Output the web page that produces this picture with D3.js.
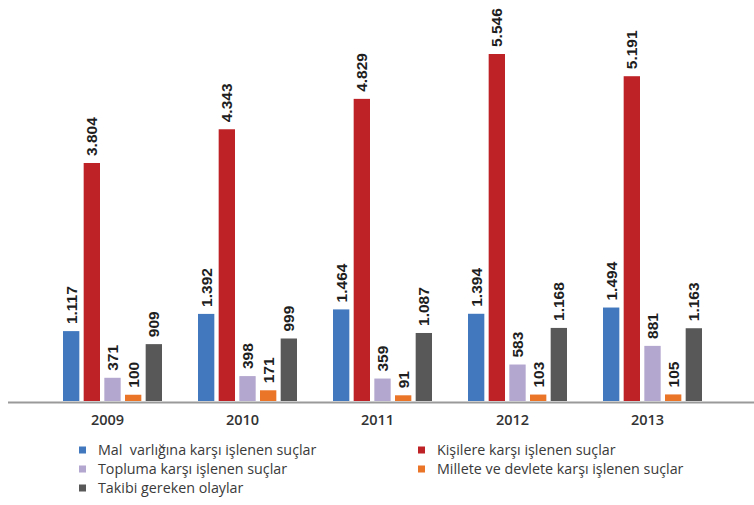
<!DOCTYPE html>
<html><head><meta charset="utf-8">
<script src="https://cdn.jsdelivr.net/npm/d3@7"></script>
<style>
html,body{margin:0;padding:0;background:#fff;}
svg{display:block;}
</style></head>
<body>
<svg id="chart" width="754" height="505"></svg>
<script>
const years = ["2009","2010","2011","2012","2013"];
const seriesNames = [
  "Mal  varlığına karşı işlenen suçlar",
  "Kişilere karşı işlenen suçlar",
  "Topluma karşı işlenen suçlar",
  "Millete ve devlete karşı işlenen suçlar",
  "Takibi gereken olaylar"
];
const mal      = [1117, 1392, 1464, 1394, 1494];
const kisiler  = [3804, 4343, 4829, 5546, 5191];
const topluma  = [371, 398, 359, 583, 881];
const millete  = [100, 171, 91, 103, 105];
const takibi   = [909, 999, 1087, 1168, 1163];
const colors = ["#4178be", "#be2126", "#b3a6cf", "#ea7428", "#585858"];

const seriesValues = [mal, kisiler, topluma, millete, takibi];
const fmt = v => d3.format(",")(v).replace(/,/g, ".");

const svg = d3.select("#chart");

const x0 = d3.scaleBand().domain(years).range([63, 702]).paddingInner(0.2667).paddingOuter(0);
const x1 = d3.scaleBand().domain(d3.range(seriesNames.length)).range([0, x0.bandwidth()]).paddingInner(0.21).paddingOuter(0);
const y = d3.scaleLinear().domain([0, 6000]).range([401, 25.6]);

const groups = svg.selectAll("g.grp").data(years).join("g")
  .attr("class", "grp")
  .attr("transform", d => `translate(${x0(d)},0)`);

groups.each(function(year, yi) {
  const g = d3.select(this);
  const rows = seriesValues.map((arr, si) => ({si, v: arr[yi]}));
  g.selectAll("rect").data(rows).join("rect")
    .attr("x", d => x1(d.si))
    .attr("width", x1.bandwidth())
    .attr("y", d => y(d.v))
    .attr("height", d => y(0) - y(d.v))
    .attr("fill", d => colors[d.si]);
  g.selectAll("text").data(rows).join("text")
    .attr("transform", d => `translate(${x1(d.si) + x1.bandwidth()/2},${y(d.v) - 7}) rotate(-90)`)
    .attr("dy", "0.36em")
    .attr("text-anchor", "start")
    .attr("font-family", "'Liberation Sans', Arial, sans-serif")
    .attr("font-weight", "bold")
    .attr("font-size", "15.5px")
    .attr("fill", "#1e1e1e")
    .text(d => fmt(d.v));
});

// baseline
svg.append("line")
  .attr("x1", 8).attr("x2", 754)
  .attr("y1", y(0) + 1.5).attr("y2", y(0) + 1.5)
  .attr("stroke", "#9a9a9a").attr("stroke-width", 2);

// year labels
const xAxis = d3.axisBottom(x0).tickSize(0).tickPadding(0);
const ax = svg.append("g").attr("transform", `translate(-5,${y(0) + 14})`).call(xAxis);
ax.select(".domain").remove();
ax.selectAll("text")
  .attr("font-family", "'Open Sans', sans-serif")
  .attr("font-weight", "600")
  .attr("font-size", "14.5px")
  .attr("fill", "#333");

// legend
const legendPos = [
  {col: 0, row: 0}, {col: 1, row: 0}, {col: 0, row: 1}, {col: 1, row: 1}, {col: 0, row: 2}
];
const colX = [79, 418];
const rowY = d3.scaleLinear().domain([0, 2]).range([450, 488]);
const leg = svg.append("g");
seriesNames.forEach((name, i) => {
  const p = legendPos[i];
  const g = leg.append("g").attr("transform", `translate(${colX[p.col]},${rowY(p.row)})`);
  g.append("rect").attr("x", 0).attr("y", -3.5).attr("width", 7).attr("height", 7).attr("fill", colors[i]);
  g.append("text").attr("x", 19).attr("dy", "0.35em")
    .attr("font-family", "'Open Sans', sans-serif")
    .attr("font-size", "14.3px")
    .attr("fill", "#3a3a3a")
    .style("white-space", "pre")
    .attr("xml:space", "preserve")
    .text(name);
});
</script>
</body></html>
